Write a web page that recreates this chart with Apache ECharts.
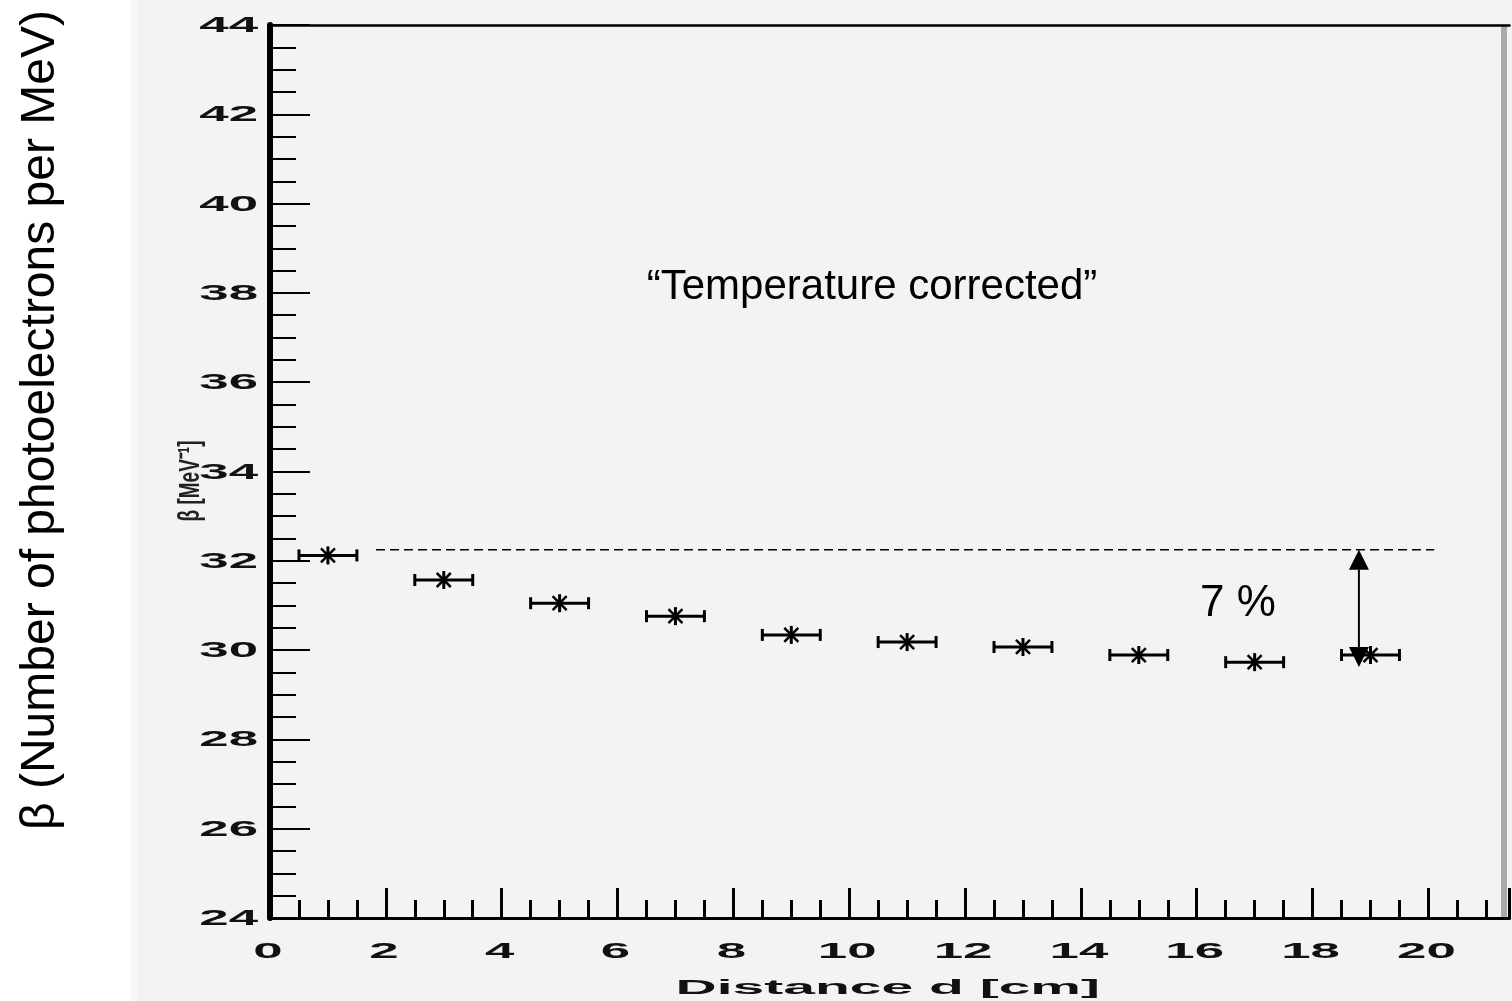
<!DOCTYPE html>
<html><head><meta charset="utf-8">
<script src="https://cdn.jsdelivr.net/npm/echarts@6/dist/echarts.min.js"></script>
<style>html,body{margin:0;padding:0;background:#fff}#c{width:1512px;height:1001px}</style>
</head><body><div id="c"></div>
<script>
// ---- data ----
const distances = [1, 3, 5, 7, 9, 11, 13, 15, 17, 19];
const betaValues = [32.12, 31.57, 31.05, 30.76, 30.34, 30.18, 30.07, 29.89, 29.73, 29.89];
const distErrors = [0.5, 0.5, 0.5, 0.5, 0.5, 0.5, 0.5, 0.5, 0.5, 0.5];
const xTickLabels = ['0', '2', '4', '6', '8', '10', '12', '14', '16', '18', '20'];
const yTickLabels = ['24', '26', '28', '30', '32', '34', '36', '38', '40', '42', '44'];
const refLevel = 32.25;
const refLineX = [1.83, 20.1];
const arrowX = 18.8;
const arrowEnds = [32.25, 29.62];

const chart = echarts.init(document.getElementById('c'), null, {renderer: 'canvas'});
const BLACK = '#000';
const tickFont = 'bold 22px "Liberation Sans", Arial, sans-serif';
const tickStretch = 2.4;

const pointData = distances.map((d, i) => [d, betaValues[i], distErrors[i]]);

const option = {
  backgroundColor: '#fff',
  animation: false,
  grid: {left: 270, top: 25, width: 1239.5, height: 893, containLabel: false},
  xAxis: [
    { // major ticks
      type: 'value', min: 0, max: 21.4, interval: 2, position: 'bottom',
      axisLine: {show: true, lineStyle: {color: BLACK, width: 3}},
      axisTick: {show: true, inside: true, length: 30, lineStyle: {color: BLACK, width: 3}},
      axisLabel: {show: false}, splitLine: {show: false}
    },
    { // minor ticks
      type: 'value', min: 0, max: 21.4, interval: 0.5, position: 'bottom', offset: 0,
      axisLine: {show: false},
      axisTick: {show: true, inside: true, length: 18, lineStyle: {color: BLACK, width: 3}},
      axisLabel: {show: false}, splitLine: {show: false}
    },
    { // top frame
      type: 'value', min: 0, max: 21.4, position: 'top',
      axisLine: {show: true, lineStyle: {color: BLACK, width: 2.5}},
      axisTick: {show: false}, axisLabel: {show: false}, splitLine: {show: false}
    }
  ],
  yAxis: [
    {
      type: 'value', min: 24, max: 44, interval: 2, position: 'left',
      axisLine: {show: true, lineStyle: {color: BLACK, width: 6}},
      axisTick: {show: true, inside: true, length: 40, lineStyle: {color: BLACK, width: 2}},
      minorTick: {show: true, splitNumber: 4, length: 26, lineStyle: {color: BLACK, width: 2}},
      axisLabel: {show: false}, splitLine: {show: false}
    },
    {
      type: 'value', min: 24, max: 44, position: 'right',
      axisLine: {show: true, lineStyle: {color: BLACK, width: 5}},
      axisTick: {show: false}, axisLabel: {show: false}, splitLine: {show: false}
    }
  ],
  series: [
    { // x tick labels
      type: 'custom', name: 'xlabels', xAxisIndex: 0, yAxisIndex: 0, silent: true,
      data: xTickLabels.map(s => [parseFloat(s), 24]),
      renderItem: function (params, api) {
        const p = api.coord([api.value(0), api.value(1)]);
        return {type: 'text', x: p[0] - 2, y: p[1] + 34, scaleX: tickStretch,
          style: {text: xTickLabels[params.dataIndex], font: tickFont, fill: '#111', align: 'center', verticalAlign: 'middle'}};
      }
    },
    { // y tick labels
      type: 'custom', name: 'ylabels', xAxisIndex: 0, yAxisIndex: 0, silent: true,
      data: yTickLabels.map(s => [0, parseFloat(s)]),
      renderItem: function (params, api) {
        const p = api.coord([api.value(0), api.value(1)]);
        return {type: 'text', x: p[0] - 12, y: p[1] + 1, scaleX: tickStretch,
          style: {text: yTickLabels[params.dataIndex], font: tickFont, fill: '#111', align: 'right', verticalAlign: 'middle'}};
      }
    },
    { // reference dashed line
      type: 'line', xAxisIndex: 0, yAxisIndex: 0, symbol: 'none', silent: true,
      data: refLineX.map(x => [x, refLevel]),
      lineStyle: {color: BLACK, width: 1.5, type: [9, 5]}
    },
    { // double arrow
      type: 'custom', xAxisIndex: 0, yAxisIndex: 0, silent: true,
      data: [[arrowX, arrowEnds[0], arrowEnds[1]]],
      renderItem: function (params, api) {
        const a = api.coord([api.value(0), api.value(1)]);
        const b = api.coord([api.value(0), api.value(2)]);
        const hl = 20, hw = 10;
        return {type: 'group', children: [
          {type: 'line', shape: {x1: a[0], y1: a[1] + hl, x2: b[0], y2: b[1] - hl}, style: {stroke: BLACK, lineWidth: 2}},
          {type: 'polygon', shape: {points: [[a[0], a[1]], [a[0] - hw, a[1] + hl], [a[0] + hw, a[1] + hl]]}, style: {fill: BLACK}},
          {type: 'polygon', shape: {points: [[b[0], b[1]], [b[0] - hw, b[1] - hl], [b[0] + hw, b[1] - hl]]}, style: {fill: BLACK}}
        ]};
      }
    },
    { // data points with horizontal error bars
      type: 'custom', name: 'beta', xAxisIndex: 0, yAxisIndex: 0,
      data: pointData,
      renderItem: function (params, api) {
        const x = api.value(0), y = api.value(1), e = api.value(2);
        const c = api.coord([x, y]);
        const l = api.coord([x - e, y]);
        const r = api.coord([x + e, y]);
        const st = {stroke: BLACK, lineWidth: 3};
        const rs = 9, rd = 7;
        return {type: 'group', children: [
          {type: 'line', shape: {x1: l[0], y1: l[1], x2: r[0], y2: r[1]}, style: st},
          {type: 'line', shape: {x1: l[0], y1: l[1] - 6, x2: l[0], y2: l[1] + 6}, style: st},
          {type: 'line', shape: {x1: r[0], y1: r[1] - 6, x2: r[0], y2: r[1] + 6}, style: st},
          {type: 'line', shape: {x1: c[0], y1: c[1] - rs, x2: c[0], y2: c[1] + rs}, style: st},
          {type: 'line', shape: {x1: c[0] - rd, y1: c[1] - rd, x2: c[0] + rd, y2: c[1] + rd}, style: {stroke: BLACK, lineWidth: 2.5}},
          {type: 'line', shape: {x1: c[0] - rd, y1: c[1] + rd, x2: c[0] + rd, y2: c[1] - rd}, style: {stroke: BLACK, lineWidth: 2.5}}
        ]};
      }
    }
  ],
  graphic: [
    {type: 'rect', z: -10, zlevel: 0, silent: true, shape: {x: 130, y: 0, width: 1382, height: 1001}, style: {fill: '#f3f3f3'}},
    {type: 'rect', z: -9, silent: true, shape: {x: 130, y: 0, width: 7, height: 1001}, style: {fill: '#f8f8f8'}},
    {type: 'rect', z: -9, silent: true, shape: {x: 1501, y: 26, width: 6, height: 892}, style: {fill: '#aaaaaa'}},
    {type: 'text', silent: true, x: 41, y: 420, rotation: Math.PI / 2,
      style: {text: 'β (Number of photoelectrons per MeV)', font: '48px "Liberation Sans", Arial, sans-serif', fill: BLACK, align: 'center', verticalAlign: 'middle'}},
    {type: 'text', silent: true, x: 191, y: 481, rotation: Math.PI / 2, scaleY: 1.6,
      style: {text: 'β [MeV⁻¹]', font: 'bold 19px "Liberation Sans", Arial, sans-serif', fill: '#222', align: 'center', verticalAlign: 'middle'}},
    {type: 'text', silent: true, x: 1100, y: 988, scaleX: 2.85,
      style: {text: 'Distance d [cm]', font: 'bold 20px "Liberation Sans", Arial, sans-serif', fill: '#111', align: 'right', verticalAlign: 'middle'}},
    {type: 'text', silent: true, x: 872, y: 287,
      style: {text: '“Temperature corrected”', font: '42px "Liberation Sans", Arial, sans-serif', fill: BLACK, align: 'center', verticalAlign: 'middle'}},
    {type: 'text', silent: true, x: 1238, y: 604,
      style: {text: '7 %', font: '44px "Liberation Sans", Arial, sans-serif', fill: BLACK, align: 'center', verticalAlign: 'middle'}}
  ]
};
chart.setOption(option);
</script>
</body></html>
